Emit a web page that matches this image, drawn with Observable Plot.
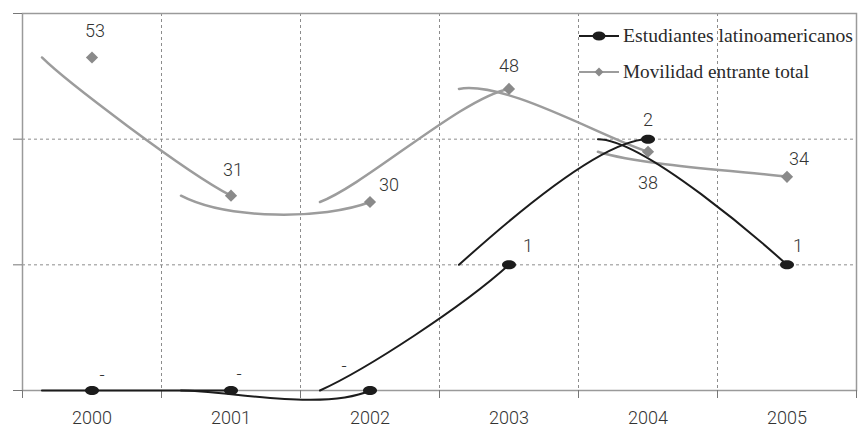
<!DOCTYPE html>
<html><head><meta charset="utf-8">
<script src="https://cdn.jsdelivr.net/npm/d3@7"></script>
<script src="https://cdn.jsdelivr.net/npm/@observablehq/plot@0.6"></script>
<style>
body{margin:0;background:#fff;}
#wrap{position:relative;width:858px;height:433px;overflow:hidden;}
#wrap svg text{font-weight:300;}
.leg{position:absolute;left:578px;height:24px;display:flex;align-items:center;font-family:"Liberation Serif",serif;font-size:19px;color:#2a2a2a;white-space:nowrap;}
.leg svg{margin-right:3px;}
.leg span{display:inline-block;transform-origin:left center;}
</style></head><body><div id="wrap"></div>
<script>
// ---- data ----
const years = ["2000", "2001", "2002", "2003", "2004", "2005"];
const estudiantes = [0, 0, 0, 1, 2, 1];
const estudiantesLabels = ["-", "-", "-", "1", "2", "1"];
const movilidad = [53, 31, 30, 48, 38, 34];
const movilidadLabels = ["53", "31", "30", "48", "38", "34"];
const seriesNames = ["Estudiantes latinoamericanos", "Movilidad entrante total"];
const primaryMax = 3;     // left (hidden) axis
const secondaryMax = 60;  // right (hidden) axis for the total

// ---- styles ----
const BLACK = "#1c1c1c", GRAY = "#9c9c9c", GRID = "#8c8c8c";
const segShift = 0.36; // the original's smoothed segments start left of each point
const blackLabelOff = [[10,-15],[8,-16],[-26,-24],[19,-19],[0,-19],[11,-19]];
const grayLabelOff  = [[3,-26],[2,-25],[19,-17],[0,-23],[0,32],[12,-18]];
const numFont = "Roboto, 'Liberation Sans', sans-serif";

// build rows
const black = years.map((yr, i) => ({i, v: estudiantes[i], label: estudiantesLabels[i]}));
const gray = years.map((yr, i) => ({i, v: movilidad[i] * primaryMax / secondaryMax, label: movilidadLabels[i]}));

function segments(rows) {
  const out = [];
  const n = rows.length;
  for (let i = 0; i < n - 1; i++) {
    const a = rows[Math.max(i - 1, 0)], b = rows[i], c = rows[i + 1], d = rows[Math.min(i + 2, n - 1)];
    out.push({seg: i, x: a.i, y: a.v});
    out.push({seg: i, x: b.i, y: b.v});
    out.push({seg: i, x: b.i - segShift, y: b.v});
    out.push({seg: i, x: c.i, y: c.v});
    out.push({seg: i, x: d.i, y: d.v});
  }
  return out;
}

// curve: cubic Bezier from shifted start to next point, Catmull-Rom tangents from neighbours
function excelSegment(context) {
  let pts;
  return {
    areaStart() {}, areaEnd() {},
    lineStart() { pts = []; },
    point(x, y) { pts.push([+x, +y]); },
    lineEnd() {
      const [A, Bo, Bs, C, D] = pts;
      context.moveTo(Bs[0], Bs[1]);
      context.bezierCurveTo(
        Bs[0] + (C[0] - A[0]) / 6, Bs[1] + (C[1] - A[1]) / 6,
        C[0] - (D[0] - Bo[0]) / 6, C[1] - (D[1] - Bo[1]) / 6,
        C[0], C[1]);
    }
  };
}

const ellipse = {
  draw(ctx, size) {
    const r = Math.sqrt(size / Math.PI), rx = r * 1.4, ry = r * 0.9, k = 0.5523;
    ctx.moveTo(rx, 0);
    ctx.bezierCurveTo(rx, k * ry, k * rx, ry, 0, ry);
    ctx.bezierCurveTo(-k * rx, ry, -rx, k * ry, -rx, 0);
    ctx.bezierCurveTo(-rx, -k * ry, -k * rx, -ry, 0, -ry);
    ctx.bezierCurveTo(k * rx, -ry, rx, -k * ry, rx, 0);
    ctx.closePath();
  }
};

const boundaries = d3.range(-0.5, years.length, 1);

const labelMarks = [];
black.forEach((d, i) => labelMarks.push(Plot.text([d], {x: "i", y: "v", text: "label", dx: blackLabelOff[i][0], dy: blackLabelOff[i][1], fontSize: 18, fill: "#333", fontFamily: numFont})));
gray.forEach((d, i) => labelMarks.push(Plot.text([d], {x: "i", y: "v", text: "label", dx: grayLabelOff[i][0], dy: grayLabelOff[i][1], fontSize: 18, fill: "#333", fontFamily: numFont})));

const chart = Plot.plot({
  width: 858, height: 433,
  marginLeft: 22, marginRight: 2, marginTop: 13, marginBottom: 43,
  x: {type: "linear", domain: [-0.5, years.length - 0.5]},
  y: {domain: [0, primaryMax]},
  style: {background: "#fff", fontFamily: numFont},
  marks: [
    Plot.ruleY(d3.range(1, primaryMax), {stroke: GRID, strokeDasharray: "3,3", strokeWidth: 1}),
    Plot.ruleX(boundaries.slice(1, -1), {stroke: GRID, strokeDasharray: "3,3", strokeWidth: 1}),
    Plot.frame({stroke: "#9a9a9a", strokeWidth: 1.5}),
    Plot.axisY({ticks: d3.range(0, primaryMax + 1), tickFormat: () => "", tickSize: 9, stroke: "#777", label: null}),
    Plot.axisX({ticks: boundaries, tickFormat: () => "", tickSize: 8, stroke: "#777", label: null}),
    Plot.axisX({ticks: d3.range(years.length), tickFormat: i => years[i], tickSize: 0, tickPadding: 21, fontSize: 18, fill: "#333", label: null}),
    Plot.line(segments(gray), {x: "x", y: "y", z: "seg", curve: excelSegment, stroke: GRAY, strokeWidth: 2.5}),
    Plot.line(segments(black), {x: "x", y: "y", z: "seg", curve: excelSegment, stroke: BLACK, strokeWidth: 2}),
    Plot.dot(gray, {x: "i", y: "v", symbol: "diamond2", r: 5.5, fill: "#8a8a8a", stroke: "none"}),
    Plot.dot(black, {x: "i", y: "v", symbol: ellipse, r: 5, fill: BLACK, stroke: "none"}),
    ...labelMarks
  ]
});
const wrap = document.getElementById("wrap");
wrap.appendChild(chart);

// legend (overlaid in the plot's upper right, as in the original)
const legItems = [
  {name: seriesNames[0], color: BLACK, top: 24, icon: `<ellipse cx="21" cy="12" rx="6.5" ry="4.5" fill="${BLACK}"/>`, w: 230},
  {name: seriesNames[1], color: GRAY, top: 60, icon: `<path d="M21 7.5 L25.5 12 L21 16.5 L16.5 12 Z" fill="#8a8a8a"/>`, w: 186}
];
legItems.forEach(it => {
  const div = document.createElement("div");
  div.className = "leg";
  div.style.top = it.top + "px";
  div.innerHTML = `<svg width="42" height="24"><line x1="1" x2="41" y1="12" y2="12" stroke="${it.color}" stroke-width="2"/>${it.icon}</svg><span>${it.name}</span>`;
  wrap.appendChild(div);
  const sp = div.querySelector("span");
  const w = sp.getBoundingClientRect().width;
  sp.style.transform = `scaleX(${it.w / w})`;
});
</script>
</body></html>
